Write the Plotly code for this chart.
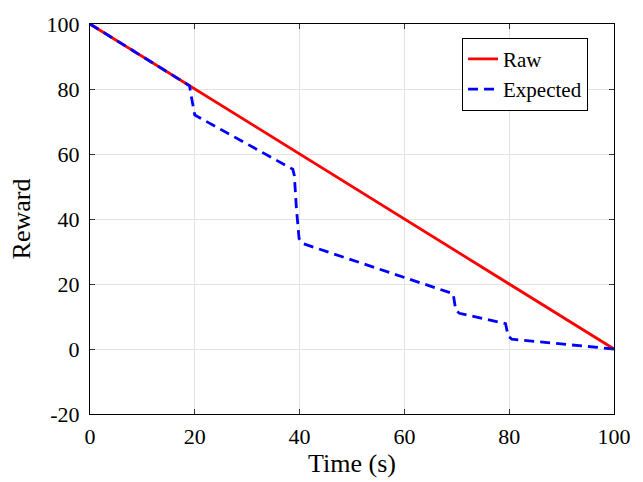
import plotly.graph_objects as go

raw_x = [0, 100]
raw_y = [100, 0]

exp_x = [0, 19, 19.3, 20, 38.7, 39.0, 39.4, 39.9, 40.5, 69.3, 69.8, 70.5, 79.3, 79.8, 80.5, 100]
exp_y = [100, 81, 78, 72, 55.3, 53.3, 43, 34, 32.5, 17, 12, 11, 7.8, 4, 3, 0]

x_ticks = [0, 20, 40, 60, 80, 100]
y_ticks = [-20, 0, 20, 40, 60, 80, 100]
y_tick_text = ["-20", "0", "20", "40", "60", "80", "100"]

FONT = "Liberation Serif, Times New Roman, serif"

fig = go.Figure()
fig.add_trace(go.Scatter(x=raw_x, y=raw_y, mode="lines", name="Raw",
                         line=dict(color="#ff0000", width=2.8)))
fig.add_trace(go.Scatter(x=exp_x, y=exp_y, mode="lines", name="Expected",
                         line=dict(color="#0000ff", width=2.8, dash="10px,6px")))

axis_common = dict(showline=True, linecolor="black", linewidth=1, mirror="ticks",
                   ticks="inside", ticklen=5, tickcolor="#333333",
                   showgrid=True, gridcolor="#e3e3e3", gridwidth=1, zeroline=False,
                   tickfont=dict(family=FONT, size=22, color="black"))

fig.update_xaxes(range=[0, 100], tickvals=x_ticks, ticklabelstandoff=3,
                 title=dict(text="Time (s)", font=dict(family=FONT, size=26, color="black"), standoff=2),
                 **axis_common)
fig.update_yaxes(range=[-20, 100], tickvals=y_ticks, ticktext=y_tick_text, ticklabelstandoff=5,
                 title=dict(text="Reward", font=dict(family=FONT, size=26, color="black"), standoff=8),
                 **axis_common)

fig.update_layout(
    width=643, height=482,
    margin=dict(l=90, r=28, t=18, b=65),
    paper_bgcolor="white", plot_bgcolor="white",
    font=dict(family=FONT, size=22, color="black"),
    legend=dict(x=0.71, y=0.965, xanchor="left", yanchor="top",
                bordercolor="black", borderwidth=1, bgcolor="white",
                font=dict(family=FONT, size=21, color="black"),
                itemwidth=30, tracegroupgap=0),
    showlegend=True,
)

fig.write_html("out.html")
